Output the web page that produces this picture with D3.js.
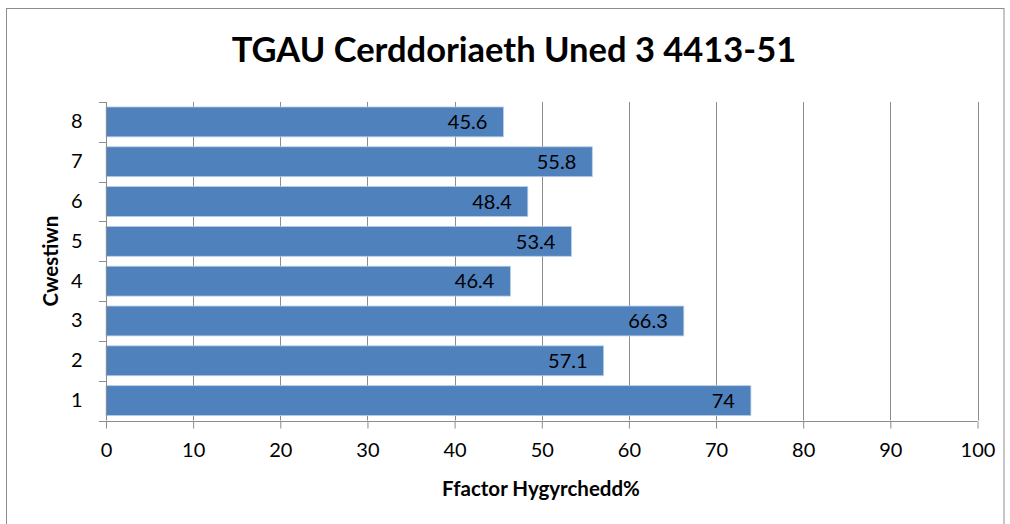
<!DOCTYPE html>
<html><head><meta charset="utf-8">
<script src="https://cdn.jsdelivr.net/npm/d3@7"></script>
<style>
html,body{margin:0;padding:0;background:#fff;}
svg{display:block;font-family:Lato,"Open Sans",sans-serif;}
</style></head>
<body>
<script>
const categories = ["1","2","3","4","5","6","7","8"];
const values = [74, 57.1, 66.3, 46.4, 53.4, 48.4, 55.8, 45.6];
const xTicks = [0,10,20,30,40,50,60,70,80,90,100];
const title = "TGAU Cerddoriaeth Uned 3 4413-51";
const xTitle = "Ffactor Hygyrchedd%";
const yTitle = "Cwestiwn";

(function () {
const W = 1010, H = 524;
const svg = d3.select("body").append("svg").attr("width", W).attr("height", H);

svg.append("rect").attr("x", 6.5).attr("y", 8.5).attr("width", 997.5).attr("height", 530)
  .attr("fill", "#fff").attr("stroke", "#8c8c8c").attr("stroke-width", 1);

const pL = 106, pR = 977.5, pT = 102, pB = 420.5;
const x = d3.scaleLinear().domain([0, 100]).range([pL, pR]);
const y = d3.scaleBand().domain(categories.slice().reverse()).range([pT, pB]).paddingInner(0.25).paddingOuter(0.125);

// gridlines
svg.append("g").selectAll("line").data(xTicks.slice(1)).join("line")
  .attr("x1", d => Math.round(x(d)) + 0.5).attr("x2", d => Math.round(x(d)) + 0.5)
  .attr("y1", pT).attr("y2", pB)
  .attr("stroke", "#8c8c8c").attr("stroke-width", 1);

// bars
svg.append("g").selectAll("rect").data(values).join("rect")
  .attr("x", x(0)).attr("y", (d, i) => y(categories[i]))
  .attr("width", d => x(d) - x(0)).attr("height", y.bandwidth())
  .attr("fill", "#4f81bd").attr("stroke", "#b9cde5").attr("stroke-width", 0.8);

// value labels
svg.append("g").selectAll("text").data(values).join("text")
  .attr("x", d => x(d) - 16).attr("y", (d, i) => y(categories[i]) + y.bandwidth() / 2)
  .attr("dy", "0.36em").attr("text-anchor", "end")
  .attr("font-size", 20).attr("fill", "#000").text(d => d);

// x axis
const xAxis = svg.append("g").attr("transform", `translate(0,${Math.round(pB)+0.5})`)
  .call(d3.axisBottom(x).tickValues(xTicks).tickSize(7).tickPadding(14));
// y axis
const yb = d3.scaleBand().domain(categories.slice().reverse()).range([pT, pB]);
const yAxis = svg.append("g").attr("transform", `translate(${pL+0.5},0)`)
  .call(d3.axisLeft(yb).tickSize(0).tickPadding(24));
yAxis.selectAll(".tick line").remove();
// y ticks at band boundaries
const bounds = d3.range(categories.length + 1).map(i => pT + i * yb.step());
svg.append("g").selectAll("line").data(bounds).join("line")
  .attr("x1", pL - 7).attr("x2", pL + 0.5)
  .attr("y1", d => Math.round(d) + 0.5).attr("y2", d => Math.round(d) + 0.5)
  .attr("stroke", "#8c8c8c");

[xAxis, yAxis].forEach(g => {
  g.select(".domain").attr("stroke", "#8c8c8c").attr("stroke-width", 1);
  g.selectAll(".tick line").attr("stroke", "#8c8c8c");
  g.selectAll("text").attr("font-size", 20).attr("fill", "#000").attr("font-family", "Lato, sans-serif");
});
xAxis.select(".domain").attr("d", `M${pL},0H${pR}`);
yAxis.select(".domain").attr("d", `M0,${pT}V${pB}`);

svg.append("text").attr("x", 514).attr("y", 62).attr("text-anchor", "middle")
  .attr("font-size", 34.5).attr("font-weight", "bold").text(title);
svg.append("text").attr("x", 541).attr("y", 496).attr("text-anchor", "middle")
  .attr("font-size", 20.5).attr("font-weight", "bold").text(xTitle);
svg.append("text").attr("transform", "translate(58,261) rotate(-90)").attr("text-anchor", "middle")
  .attr("font-size", 20.5).attr("font-weight", "bold").text(yTitle);
})();
</script>
</body></html>
